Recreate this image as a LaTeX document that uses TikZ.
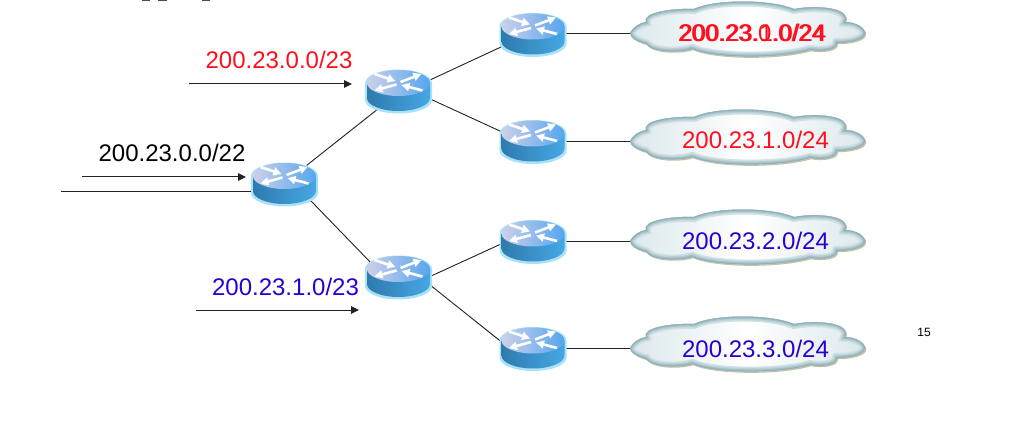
\documentclass[tikz,border=0pt]{standalone}
\usepackage{fontspec}
\setmainfont{Liberation Sans}
\usetikzlibrary{arrows.meta,shapes.geometric}
\definecolor{netred}{HTML}{FF0F1E}
\definecolor{netblue}{HTML}{2A00D0}
\definecolor{wire}{HTML}{222222}
\definecolor{halo}{HTML}{A9E2F7}
\definecolor{bodyL}{HTML}{2E7BAE}
\definecolor{bodyR}{HTML}{47A7E4}
\definecolor{topL}{HTML}{CDD0EA}
\definecolor{topR}{HTML}{55A6EE}
\definecolor{cloudEdge}{HTML}{8FB2B9}
\definecolor{cloudMid}{HTML}{DCE8EC}
\definecolor{cloudShadow}{HTML}{C9BE9F}
\newcommand{\cloudoutline}{(0,0)
 .. controls (4,-7) and (10,-10) .. (16,-11)
 .. controls (12,-20) and (40,-25) .. (64,-24)
 .. controls (85,-34) and (140,-34) .. (164,-24)
 .. controls (185,-28) and (222,-26) .. (215,-11)
 .. controls (226,-11) and (235,-5) .. (235,0)
 .. controls (235,7) and (220,10) .. (207,10)
 .. controls (207,18) and (190,19) .. (180,17)
 .. controls (150,26) and (85,26) .. (62,16)
 .. controls (50,20) and (22,20) .. (16,11)
 .. controls (8,9) and (0,5) .. (0,0) -- cycle}
\tikzset{
  x=1pt,y=-1pt,
  rnode/.style={ellipse,minimum width=66pt,minimum height=50pt,inner sep=0pt,outer sep=0pt},
  cnode/.style={ellipse,minimum width=235pt,minimum height=56pt,inner sep=0pt,outer sep=0pt},
  linkline/.style={draw=wire,line width=0.9pt},
  flow/.style={draw=wire,line width=1pt,-{Triangle[length=8pt,width=7.5pt]}},
  bigtext/.style={anchor=base,inner sep=0pt,font=\fontsize{24}{28}\selectfont},
  routerarrow/.style={draw=white,line width=2.6pt,-{Triangle[length=8pt,width=8pt]}},
  router/.pic={
    \fill[halo] (-33.5,-8) -- (-33.5,9) arc[start angle=180,end angle=360,x radius=33.5pt,y radius=13.5pt] -- (33.5,-8) arc[start angle=0,end angle=180,x radius=33.5pt,y radius=13.5pt] -- cycle;
    \shade[left color=bodyL,right color=bodyR] (-31.5,-8) -- (-31.5,7) arc[start angle=180,end angle=360,x radius=31.5pt,y radius=13pt] -- (31.5,-8) -- cycle;
    \shade[shading angle=-65,left color=topL,right color=topR] (0,-8) ellipse[x radius=31.5pt,y radius=13pt];
    \draw[routerarrow] (2,-9) -- (23,-17);
    \draw[routerarrow] (-2,-6.5) -- (-24,-0.5);
    \draw[routerarrow] (-24,-17) -- (-3,-10);
    \draw[routerarrow] (24,-0.5) -- (3,-6);
  },
  netcloud/.pic={
    \fill[cloudShadow] [shift={(1.2,1.2)}] \cloudoutline;
    \begin{scope}
      \clip \cloudoutline;
      \shade[left color=cloudMid,right color=cloudMid,middle color=white] (0,-35) rectangle (236,28);
      \draw[cloudEdge!15!cloudMid,line width=10pt] \cloudoutline;
      \draw[cloudEdge!40!cloudMid,line width=7pt] \cloudoutline;
      \draw[cloudEdge!70!cloudMid,line width=4.5pt] \cloudoutline;
      \draw[cloudEdge,line width=2.2pt] \cloudoutline;
    \end{scope}
  }
}
\begin{document}
\begin{tikzpicture}
\useasboundingbox (0,0) rectangle (1021,425);
% nodes
\node[rnode] (r0) at (284.5,184) {};
\node[rnode] (r1) at (398.5,91) {};
\node[rnode] (r2) at (398.5,277) {};
\node[rnode] (a) at (533,34.5) {};
\node[rnode] (b) at (533,141.5) {};
\node[rnode] (c) at (533,241.5) {};
\node[rnode] (d) at (533,348.5) {};
\node[cnode] (ca) at (747.5,33) {};
\node[cnode] (cb) at (747.5,141) {};
\node[cnode] (cc) at (747.5,241) {};
\node[cnode] (cd) at (747.5,348) {};
\coordinate (feed) at (61,191);
\coordinate (f0s) at (82,177);
\coordinate (f0e) at (246,177);
\coordinate (f1s) at (189,84);
\coordinate (f1e) at (352,84);
\coordinate (f2s) at (196,310);
\coordinate (f2e) at (359,310);
% connectors
\draw[linkline] (feed) -- (feed -| r0.west);
\draw[linkline] (r0.40) -- (r1.221);
\draw[linkline] (r0.-32) -- (r2.153);
\draw[linkline] (r1.19) -- (a.201);
\draw[linkline] (r1.-14) -- (b.163);
\draw[linkline] (r2.2) -- (c.185);
\draw[linkline] (r2.-14) -- (d.168);
\draw[linkline] (a.east |- ca.west) -- (ca.west);
\draw[linkline] (b.east |- cb.west) -- (cb.west);
\draw[linkline] (c.east |- cc.west) -- (cc.west);
\draw[linkline] (d.east |- cd.west) -- (cd.west);
\draw[flow] (f0s) -- (f0e);
\draw[flow] (f1s) -- (f1e);
\draw[flow] (f2s) -- (f2e);
% routers
\foreach \px/\py in {284.5/184,398.5/91,398.5/277,533/34.5,533/141.5,533/241.5,533/348.5}
  \pic at (\px,\py) {router};
% clouds
\foreach \py in {33,141,241,348}
  \pic at (630,\py) {netcloud};
% labels
\node[bigtext,text=black] (t0) at (172,162) {200.23.0.0/22};
\node[bigtext,text=netred] (t1) at (279,69) {200.23.0.0/23};
\node[bigtext,text=netblue] (t2) at (285.5,295) {200.23.1.0/23};
\node[bigtext,text=netred] (ta1) at (751.5,42) {200.23.0.0/24};
\node[bigtext,text=netred] (ta2) at (753,42) {200.23.1.0/24};
\node[bigtext,text=netred] (tb) at (755.5,149) {200.23.1.0/24};
\node[bigtext,text=netblue] (tc) at (755.5,249) {200.23.2.0/24};
\node[bigtext,text=netblue] (td) at (755.5,357) {200.23.3.0/24};
\node[anchor=base,inner sep=0pt,font=\fontsize{12}{14}\selectfont] (pg) at (924,336) {15};
% remnants of the clipped title at the top edge
\fill[black!70] (142,0) rectangle (150,1);
\fill[black!70] (158,0) rectangle (167,1);
\fill[black!70] (202,0) rectangle (210,1);
\end{tikzpicture}
\end{document}
